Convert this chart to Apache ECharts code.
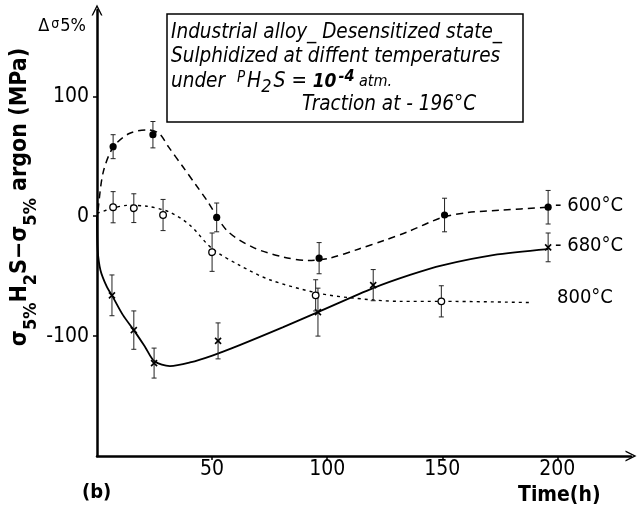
<!DOCTYPE html>
<html><head><meta charset="utf-8">
<script src="https://cdn.jsdelivr.net/npm/echarts@6/dist/echarts.min.js"></script>
<style>html,body{margin:0;padding:0;background:#fff}#c{width:638px;height:510px}</style>
</head><body><div id="c"></div>
<script>
// ---- measured points (time h, Δσ MPa, error half-width) ----
const times600 = [7, 24.3, 52, 96.5, 151, 196];
const vals600  = [58, 68, -1, -35, 1, 7.5];
const err600   = [10, 11, 12, 13, 14, 14];

const times680 = [6.5, 16, 24.8, 52.6, 96, 120, 196];
const vals680  = [-66, -95, -122.5, -104, -80, -57.5, -26];
const err680   = [17, 16, 12.5, 15, 20, 13, 12];

const times800 = [7, 16, 28.7, 50, 95, 149.6];
const vals800  = [7.5, 6.7, 1, -30, -66, -71];
const err800   = [13, 12, 13, 16, 13, 13];

// ---- hand-drawn fitted curves [time, value] ----
const curve600 = [[0.5,5],[2.6,36],[7,57.5],[14,69],[22,72],[27,69],[31,58],[37.4,41],[43,26],[47.8,13],[56.5,-12],[67.8,-26],[80.9,-34],[92,-37],[101,-35],[113.5,-27.5],[125,-20],[135,-13],[150,-1],[161,3],[175,5],[196,7.5]];
const curve680 = [[0,0],[0.3,-28],[1.5,-45],[4.3,-59],[6.5,-66],[11.3,-82.5],[16,-95],[20.9,-109],[25,-121],[31.7,-125],[40.4,-122],[50.4,-116],[62,-107.5],[80.9,-92.5],[96,-80],[120,-60],[136,-49],[150,-41],[172,-32.5],[196,-27.5]];
const curve800 = [[0,2.5],[7,6.7],[13,9],[21.7,8.3],[31.7,3.3],[40.4,-7.5],[50,-27],[62,-41],[75,-53],[95.6,-64],[110,-68],[131.7,-71],[149.6,-71],[187.8,-72]];

const xTicks = [50, 100, 150, 200];
const yTicks = [-100, 0, 100];
const seriesLabels = ['- 600°C', '- 680°C', '800°C'];

const NARROW = "'Liberation Sans Narrow','DejaVu Sans Condensed','Liberation Sans',sans-serif";
const COND = "'DejaVu Sans Condensed','DejaVu Sans',sans-serif";

function errData(t, v, e) { return t.map((x, i) => [x, v[i], e[i]]); }

function makeRender(marker) {
  return function (params, api) {
    const t = api.value(0), v = api.value(1), e = api.value(2);
    const p = api.coord([t, v]), hi = api.coord([t, v + e]), lo = api.coord([t, v - e]);
    const st = { stroke: '#222', lineWidth: 1 };
    const ch = [
      { type: 'line', shape: { x1: p[0], y1: hi[1], x2: p[0], y2: lo[1] }, style: st },
      { type: 'line', shape: { x1: p[0] - 2.5, y1: hi[1], x2: p[0] + 2.5, y2: hi[1] }, style: st },
      { type: 'line', shape: { x1: p[0] - 2.5, y1: lo[1], x2: p[0] + 2.5, y2: lo[1] }, style: st }
    ];
    if (marker === 'filled') {
      ch.push({ type: 'circle', shape: { cx: p[0], cy: p[1], r: 3.6 }, style: { fill: '#000' } });
    } else if (marker === 'open') {
      ch.push({ type: 'circle', shape: { cx: p[0], cy: p[1], r: 3.3 }, style: { fill: '#fff', stroke: '#000', lineWidth: 1.3 } });
    } else {
      const s = 3;
      const xs = { stroke: '#000', lineWidth: 1.6 };
      ch.push({ type: 'line', shape: { x1: p[0] - s, y1: p[1] - s, x2: p[0] + s, y2: p[1] + s }, style: xs });
      ch.push({ type: 'line', shape: { x1: p[0] - s, y1: p[1] + s, x2: p[0] + s, y2: p[1] - s }, style: xs });
    }
    return { type: 'group', children: ch };
  };
}

const arrow = 'path://M0,12 L6,0 L12,12 L10.4,12 L6,3.2 L1.6,12 Z';

const chart = echarts.init(document.getElementById('c'), null, { renderer: 'canvas' });
const option = {
  animation: false,
  backgroundColor: '#fff',
  grid: { left: 97, top: 10, width: 534, height: 446, outerBoundsMode: 'none', containLabel: false },
  xAxis: {
    type: 'value', min: 0, max: 232, interval: 50,
    axisLine: { show: true, onZero: false, lineStyle: { color: '#000', width: 2.5 }, symbol: ['none', arrow], symbolSize: [11, 13] },
    axisTick: { show: true, customValues: xTicks, length: 4, lineStyle: { color: '#000', width: 1.5 } },
    axisLabel: { customValues: xTicks, color: '#000', fontSize: 21, fontFamily: NARROW, margin: 3 },
    splitLine: { show: false }
  },
  yAxis: {
    type: 'value', min: -200, max: 172, interval: 100,
    axisLine: { show: true, onZero: false, lineStyle: { color: '#000', width: 2.5 }, symbol: ['none', arrow], symbolSize: [11, 13] },
    axisTick: { show: true, customValues: yTicks, length: 4, lineStyle: { color: '#000', width: 1.5 } },
    axisLabel: { customValues: yTicks, color: '#000', fontSize: 21, fontFamily: NARROW, margin: 8 },
    splitLine: { show: false }
  },
  series: [
    { type: 'line', data: curve600, showSymbol: false, smooth: 0.3,
      lineStyle: { color: '#000', width: 1.5, type: [7, 5] }, z: 2 },
    { type: 'line', data: curve680, showSymbol: false, smooth: 0.3,
      lineStyle: { color: '#000', width: 1.8 }, z: 2 },
    { type: 'line', data: curve800, showSymbol: false, smooth: 0.3,
      lineStyle: { color: '#000', width: 1.4, type: [3, 4] }, z: 2 },
    { type: 'custom', data: errData(times600, vals600, err600), renderItem: makeRender('filled'), encode: { x: 0, y: 1 }, z: 5 },
    { type: 'custom', data: errData(times680, vals680, err680), renderItem: makeRender('x'), encode: { x: 0, y: 1 }, z: 5 },
    { type: 'custom', data: errData(times800, vals800, err800), renderItem: makeRender('open'), encode: { x: 0, y: 1 }, z: 5 }
  ],
  graphic: [
    { type: 'rect', shape: { x: 167, y: 14, width: 356, height: 108 }, style: { fill: 'none', stroke: '#000', lineWidth: 1.5 }, z: 10 },
    { type: 'text', x: 171, y: 33, z: 11, style: { text: 'Industrial alloy_ Desensitized state_', font: 'italic 20.5px ' + COND, fill: '#000', verticalAlign: 'middle' } },
    { type: 'text', x: 171, y: 57, z: 11, style: { text: 'Sulphidized at diffent temperatures', font: 'italic 20.5px ' + COND, fill: '#000', verticalAlign: 'middle' } },
    { type: 'text', x: 171, y: 82, z: 11, style: {
      text: 'under {p|P}{h|H}{sub|2}{h|S} = {b|10}{sup|-4}{s| atm.}', verticalAlign: 'middle',
      font: 'italic 20.5px ' + COND, fill: '#000',
      rich: {
        p: { fontSize: 15, fontStyle: 'italic', fontFamily: COND, padding: [0, 2, 8, 6] },
        h: { fontSize: 21, fontStyle: 'italic', fontFamily: COND },
        sub: { fontSize: 18, fontStyle: 'italic', fontFamily: COND, padding: [10, 2, 0, 0] },
        b: { fontSize: 19, fontWeight: 'bold', fontStyle: 'italic', fontFamily: COND },
        sup: { fontSize: 16, fontWeight: 'bold', fontStyle: 'italic', fontFamily: COND, padding: [0, 0, 10, 2] },
        s: { fontSize: 16, fontStyle: 'italic', fontFamily: COND }
      } } },
    { type: 'text', x: 302, y: 105, z: 11, style: { text: 'Traction at - 196°C', font: 'italic 20.5px ' + COND, fill: '#000', verticalAlign: 'middle' } },
    { type: 'text', x: 86, y: 26, style: {
      text: '{a|Δ}{b|σ}{a|5%}', align: 'right', verticalAlign: 'middle', fill: '#000',
      rich: {
        a: { fontSize: 18, fontFamily: NARROW },
        b: { fontSize: 14, fontFamily: NARROW, padding: [0, 1, 4, 2] }
      } } },
    { type: 'text', x: 20, y: 197, rotation: Math.PI / 2, style: {
      text: '{m|σ}{s|5%}{m|H}{s|2}{m|S−σ}{s|5%}{m| argon (MPa)}', align: 'center', verticalAlign: 'middle', fill: '#000',
      rich: {
        m: { fontSize: 23, fontWeight: 'bold', fontFamily: COND },
        s: { fontSize: 18, fontWeight: 'bold', fontFamily: COND, padding: [22, 0, 0, 0] }
      } } },
    { type: 'text', x: 82, y: 493, style: { text: '(b)', font: 'bold 20px ' + COND, fill: '#000', verticalAlign: 'middle' } },
    { type: 'text', x: 518, y: 496, style: { text: 'Time(h)', font: 'bold 21px ' + COND, fill: '#000', verticalAlign: 'middle' } },
    { type: 'text', x: 555, y: 206, style: { text: seriesLabels[0], font: '20px ' + NARROW, fill: '#000', verticalAlign: 'middle' } },
    { type: 'text', x: 555, y: 246, style: { text: seriesLabels[1], font: '20px ' + NARROW, fill: '#000', verticalAlign: 'middle' } },
    { type: 'text', x: 557, y: 298, style: { text: seriesLabels[2], font: '20px ' + NARROW, fill: '#000', verticalAlign: 'middle' } }
  ]
};
chart.setOption(option);
</script></body></html>
